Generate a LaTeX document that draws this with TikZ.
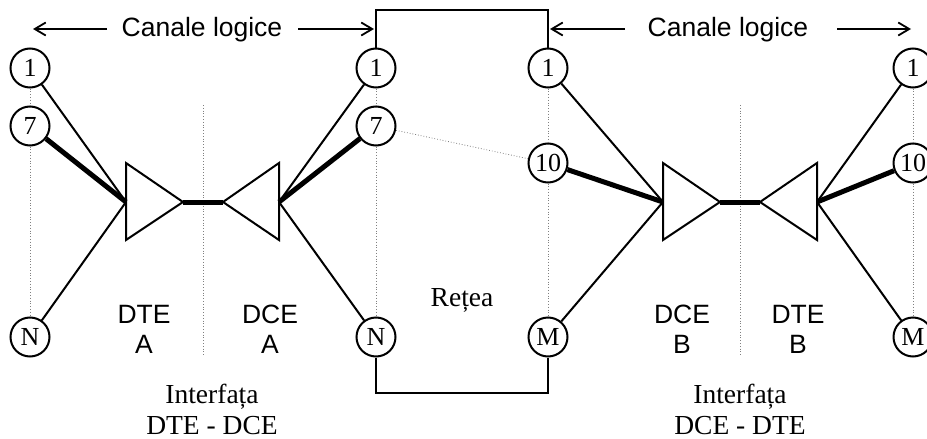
\documentclass[tikz,border=0pt]{standalone}
\usepackage{fontspec}
\setmainfont{Liberation Serif}
\newfontfamily\arial{Liberation Sans}
\usetikzlibrary{arrows.meta}
\begin{document}
\begin{tikzpicture}[x=1pt,y=-1pt,
  port/.style={circle,draw,line width=2pt,minimum size=39pt,inner sep=0pt,font=\fontsize{26}{26}\selectfont},
  wire/.style={line width=2pt},
  fat/.style={line width=5pt},
  guide/.style={gray,dotted,line width=0.8pt},
  net/.style={line width=2.4pt},
  chan/.style={line width=1.8pt,-{Straight Barb[length=11pt,width=13pt,line width=1.8pt]}},
  sans/.style={font=\arial\fontsize{26.5}{21}\selectfont,align=center,inner sep=0pt},
  caps/.style={font=\arial\fontsize{26.5}{21}\selectfont,inner sep=0pt,anchor=base,text height=18pt,text depth=0pt},
  serif/.style={font=\fontsize{27.5}{31}\selectfont,align=center,inner sep=0pt}]
\useasboundingbox (0,0) rectangle (927,439);
% ports
\node[port] (L1) at (30,68) {1};
\node[port] (L7) at (30,126) {7};
\node[port] (LN) at (30,337) {N};
\node[port] (A1) at (376,68) {1};
\node[port] (A7) at (376,126) {7};
\node[port] (AN) at (376,337) {N};
\node[port] (B1) at (548,68) {1};
\node[port] (B10) at (548,163) {10};
\node[port] (BM) at (548,337) {M};
\node[port] (R1) at (913,68) {1};
\node[port] (R10) at (913,163) {10};
\node[port] (RM) at (913,337) {M};
% guides
\draw[guide] (L1) -- (L7); \draw[guide] (L7) -- (LN);
\draw[guide] (A1) -- (A7); \draw[guide] (A7) -- (AN);
\draw[guide] (B1) -- (B10); \draw[guide] (B10) -- (BM);
\draw[guide] (R1) -- (R10); \draw[guide] (R10) -- (RM);
\draw[guide] (A7) -- (B10);
\coordinate (gA1) at (203,105); \coordinate (gA2) at (203,355);
\coordinate (gB1) at (740,105); \coordinate (gB2) at (740,355);
\draw[guide] (gA1) -- (gA2);
\draw[guide] (gB1) -- (gB2);
% triangles
\coordinate (tA) at (126,202); \coordinate (tAt) at (183,202);
\coordinate (cA) at (279,202); \coordinate (cAt) at (223,202);
\coordinate (cB) at (663,202); \coordinate (cBt) at (720,202);
\coordinate (tB) at (817,202); \coordinate (tBt) at (760,202);
\draw[wire,line join=miter] (126,163) -- (126,240) -- (tAt) -- cycle;
\draw[wire,line join=miter] (279,163) -- (279,240) -- (cAt) -- cycle;
\draw[wire,line join=miter] (663,163) -- (663,240) -- (cBt) -- cycle;
\draw[wire,line join=miter] (817,163) -- (817,240) -- (tBt) -- cycle;
\draw[fat] (tAt) -- (cAt);
\draw[fat] (cBt) -- (tBt);
% wires
\draw[wire] (L1) -- (tA); \draw[fat] (L7) -- (tA); \draw[wire] (LN) -- (tA);
\draw[wire] (A1) -- (cA); \draw[fat] (A7) -- (cA); \draw[wire] (AN) -- (cA);
\draw[wire] (B1) -- (cB); \draw[fat] (B10) -- (cB); \draw[wire] (BM) -- (cB);
\draw[wire] (R1) -- (tB); \draw[fat] (R10) -- (tB); \draw[wire] (RM) -- (tB);
% network
\coordinate (nt1) at (376,10); \coordinate (nt2) at (548,10);
\coordinate (nb1) at (376,393); \coordinate (nb2) at (548,393);
\draw[net] (A1.north) -- (nt1) -- (nt2) -- (B1.north);
\draw[net] (AN.south) -- (nb1) -- (nb2) -- (BM.south);
\node[serif] (retea) at (462,300) {Rețea};
% canale logice
\node[sans] (cl1) at (202,30) {Canale logice};
\node[sans] (cl2) at (728,30) {Canale logice};
\coordinate (a1) at (33,29); \coordinate (a2) at (374,29);
\coordinate (a3) at (550,29); \coordinate (a4) at (911,29);
\draw[chan] (107,29) -- (a1);
\draw[chan] (298,29) -- (a2);
\draw[chan] (625,29) -- (a3);
\draw[chan] (837,29) -- (a4);
% labels
\node[caps] (dteA1) at (144,323) {DTE};
\node[caps] (dteA2) at (144,353) {A};
\node[caps] (dceA1) at (270,323) {DCE};
\node[caps] (dceA2) at (270,353) {A};
\node[caps] (dceB1) at (682,323) {DCE};
\node[caps] (dceB2) at (682,353) {B};
\node[caps] (dteB1) at (798,323) {DTE};
\node[caps] (dteB2) at (798,353) {B};
\node[serif] (ifA) at (212,409) {Interfața\\DTE - DCE};
\node[serif] (ifB) at (740,409) {Interfața\\DCE - DTE};
\end{tikzpicture}
\end{document}
